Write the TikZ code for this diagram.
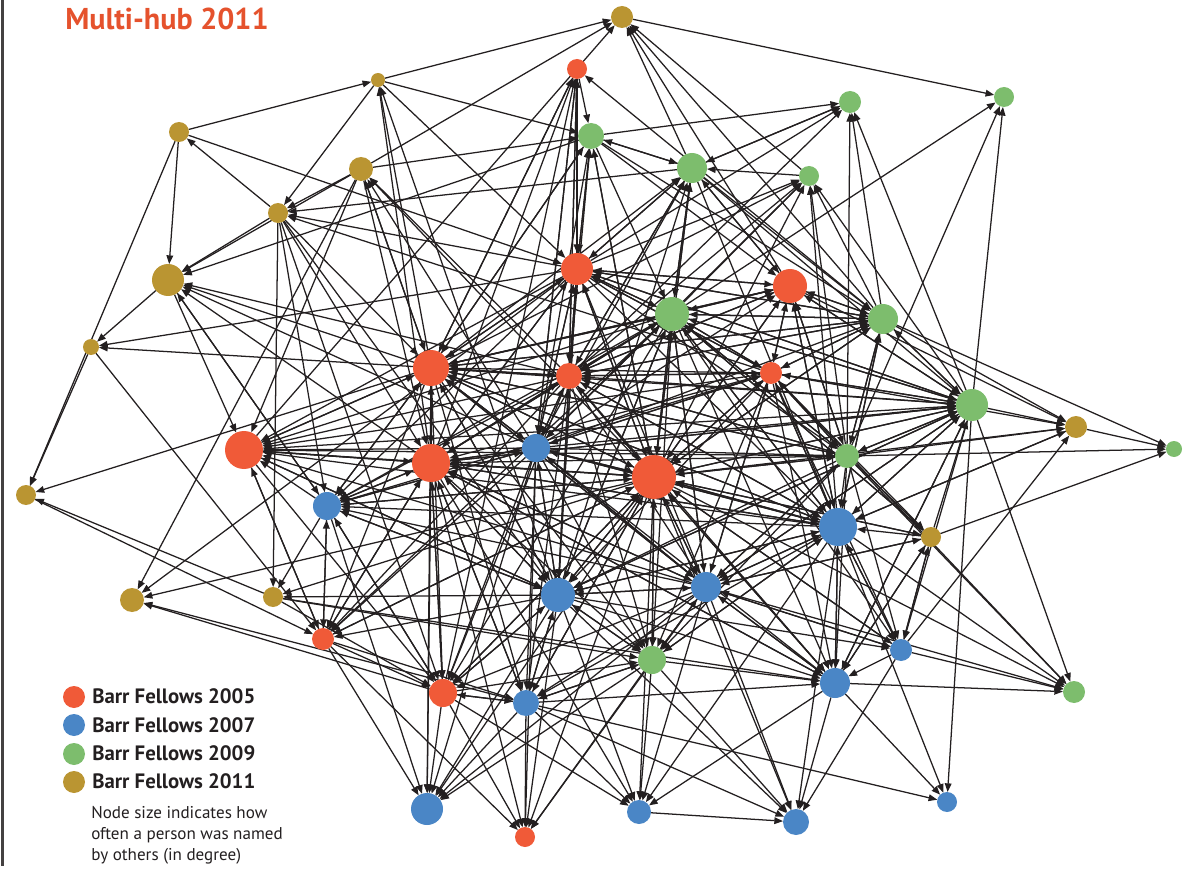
\documentclass[tikz,border=0pt]{standalone}
\usepackage{fontspec}
\newfontfamily\ptsans{PT Sans}
\usetikzlibrary{arrows.meta}
\pgfdeclarelayer{background}
\pgfsetlayers{background,main}
\definecolor{c05}{HTML}{F05A38}
\definecolor{c07}{HTML}{4A86C6}
\definecolor{c09}{HTML}{7DBD6D}
\definecolor{c11}{HTML}{BA9532}
\definecolor{ink}{HTML}{231F20}
\definecolor{titlec}{HTML}{E5522D}
\tikzset{
  nd/.style={circle,inner sep=0pt,outer sep=0pt,draw=none,minimum size=#1*1.5pt},
  lnk/.style={draw=ink,line width=0.95pt,-{Triangle[length=6.5pt,width=5pt]}},
  legtxt/.style={anchor=base west,inner sep=0pt,text=ink,font=\ptsans\bfseries\fontsize{15.6}{18}\selectfont},
  notetxt/.style={anchor=north west,inner sep=0pt,text=ink,align=left,font=\ptsans\fontsize{12.8}{15.8}\selectfont}
}
\begin{document}
\begin{tikzpicture}[x=0.75pt,y=-0.75pt]
\useasboundingbox (0,0) rectangle (1190,870);
\draw[line width=1.5pt,color=ink!85] (2.5,0) -- (2.5,866);
\node[anchor=base west,inner sep=0pt,text=titlec,font=\ptsans\bfseries\fontsize{22.6}{26}\selectfont] (title) at (65,30) {Multi-hub 2011};
% gold 2011
\node[nd=11,fill=c11] (g1) at (622,17) {};
\node[nd=7,fill=c11] (g2) at (378,80) {};
\node[nd=10,fill=c11] (g3) at (179,132) {};
\node[nd=12,fill=c11] (g4) at (361,169) {};
\node[nd=10,fill=c11] (g5) at (278,213) {};
\node[nd=16,fill=c11] (g6) at (168,280) {};
\node[nd=8,fill=c11] (g7) at (91,347) {};
\node[nd=10,fill=c11] (g8) at (26,495) {};
\node[nd=12,fill=c11] (g9) at (132,600) {};
\node[nd=10,fill=c11] (g10) at (273,597) {};
\node[nd=11,fill=c11] (g11) at (1076,427) {};
\node[nd=10,fill=c11] (g12) at (931,537) {};
% red 2005
\node[nd=10,fill=c05] (r1) at (577,69) {};
\node[nd=16,fill=c05] (r2) at (577,269) {};
\node[nd=17,fill=c05] (r3) at (790,286) {};
\node[nd=18,fill=c05] (r4) at (431,368) {};
\node[nd=13,fill=c05] (r5) at (569,376) {};
\node[nd=11,fill=c05] (r6) at (771,373) {};
\node[nd=19,fill=c05] (r7) at (244,450) {};
\node[nd=19,fill=c05] (r8) at (431,463) {};
\node[nd=22,fill=c05] (r9) at (654,477) {};
\node[nd=11,fill=c05] (r10) at (323,639) {};
\node[nd=14,fill=c05] (r11) at (443,693) {};
\node[nd=10,fill=c05] (r12) at (525,837) {};
% blue 2007
\node[nd=14,fill=c07] (b1) at (536,448) {};
\node[nd=14,fill=c07] (b2) at (327,506) {};
\node[nd=19,fill=c07] (b3) at (838,527) {};
\node[nd=17,fill=c07] (b4) at (558,595) {};
\node[nd=15,fill=c07] (b5) at (706,587) {};
\node[nd=11,fill=c07] (b6) at (901,650) {};
\node[nd=15,fill=c07] (b7) at (835,683) {};
\node[nd=13,fill=c07] (b8) at (526,703) {};
\node[nd=16,fill=c07] (b9) at (427,809) {};
\node[nd=12,fill=c07] (b10) at (639,812) {};
\node[nd=13,fill=c07] (b11) at (796,822) {};
\node[nd=10,fill=c07] (b12) at (947,802) {};
% green 2009
\node[nd=13,fill=c09] (n1) at (591,136) {};
\node[nd=11,fill=c09] (n2) at (850,102) {};
\node[nd=10,fill=c09] (n3) at (1004,97) {};
\node[nd=15,fill=c09] (n4) at (692,168) {};
\node[nd=10,fill=c09] (n5) at (809,176) {};
\node[nd=17,fill=c09] (n6) at (672,314) {};
\node[nd=15,fill=c09] (n7) at (883,319) {};
\node[nd=16,fill=c09] (n8) at (972,405) {};
\node[nd=12,fill=c09] (n9) at (847,456) {};
\node[nd=8,fill=c09] (n10) at (1174,449) {};
\node[nd=14,fill=c09] (n11) at (652,660) {};
\node[nd=11,fill=c09] (n12) at (1074,692) {};
\begin{pgfonlayer}{background}
\foreach \t/\ss in {
 g1/{g2,g4,r7,n4,r3,n5,n7},
 g2/{g3,r4,r8,b4},
 g3/{g5},
 g4/{r4,b1,r5,r9},
 g5/{g2,g4,n4,r6,r2},
 g6/{g3,g4,g5,n1,r4,b1,r8,r5,b2},
 g7/{g6,r2,r5},
 g8/{g3,g7,r4,g10},
 g9/{g4,r2,r9,b8,r11},
 g10/{g5,b2,b4,r9},
 g11/{n8,n7,b6,r6,b3,r9,r3,n9},
 g12/{r9,n9,r6,b6,b7,n6,b5},
 r1/{r2,r8,r11,n7,b1,r5,r4},
 r2/{r4,r5,n6,r1,n1,n4,r3,r6,r9,b1,r8,g3,g2,n7,n8,b4,b5},
 r3/{n6,r6,n7,r9,n8,r2,n4,n1,r5,b3,n9,b1,r4},
 r4/{r5,r2,r8,b1,r9,g5,g4,b2,r7,r6,n6,r3,n7,b4,b5,r1,n1,b3,n9},
 r5/{r4,r8,b1,r2,r9,n6,r6,b4,r3,b3,n9,n7,n4,r1},
 r6/{r9,n6,r3,n7,n8,b3,n9,r5,r2,b5,b1},
 r7/{r4,r8,b1,r5,r9,r2,g6,r10,b2,n6,b4,r6,b5,n9,b3,n8,g4},
 r8/{r4,r5,r2,b1,r9,n6,r6,b2,b4,b5,b3,n9,r7,r10,r11,b8,g5,g4,n8,b7},
 r9/{r4,r5,r2,r8,b1,n6,r6,r3,n7,n8,b3,n9,g12,b5,b4,b7,b6,n11,b8,r11,b2,r10,n4,n1},
 r10/{r8,r4,b1,r5,g8,b4,r9,b2,r7,n6,g7},
 r11/{r8,b4,r10,r4,b1,b2,r9,b5,n6,r5,b8,r7,g5,g10},
 r12/{r10,b8,b4,b5,r11,r9,b1,n11,r8},
 b1/{r4,r5,r8,r2,r9,b4,n6,r6,b2,r1,b5,b3},
 b2/{r4,r8,b1,r5,r9,g5,g6,r2,r6,b4,r11,r10,n6,b3,b5},
 b3/{r9,n9,r6,g12,b5,n8,n7,r3,b6,b7,b4,r5,r2,n6,r4,b1,r8,n4,n11,g11},
 b4/{r9,b1,r8,r5,r4,b5,n6,r6,b3,n9,r2,b8,r11,n11,r7,b2,n8,g5},
 b5/{r9,b3,r6,b4,n9,r5,b1,n6,n11,g12,r8,b6,n8,r4,b7},
 b6/{b3,r9,b5,n9,n8,g12,r6,n6,b4},
 b7/{b3,r9,b5,n9,b4,g12,n8,b6,r6,r5,n11,b1,r8,n6,b8,g10},
 b8/{r11,b4,r8,r10,b5,r9,n11,b1,r4,r5,b3},
 b9/{r11,r8,b4,b5,b8,r4,r9,b1,b2,n11,r10},
 b10/{b5,b4,r9,b8,n11,b3,r8,b7,r11},
 b11/{b7,b3,b10,b5,r9,b4,n11,b8,b6},
 b12/{n8,b7,b8,b3},
 n1/{g2,g4,r2,r5,r4,n4,b1,r9,r1},
 n2/{n1,r2,n4,r5,n9,n7,n8},
 n3/{g1,n6,n9,n8},
 n4/{n1,n6,b4,r2,r5,r4,b1,r9,n5,r3,n2},
 n5/{n9,b3,n7,n8,r4,r5,r2,b1,n6,r9},
 n6/{r5,r2,r4,r9,r6,r3,b1,n7,n8,b3,b4,n9,b5,r8,g12,n4,n1},
 n7/{n4,n1,r3,n8,r6,r9,b3,n9,r5,r2,n6,b1,r4},
 n8/{n7,r3,r6,b3,r9,n6,b5,n9,r5,b4,r2,r4,b1,b7,g12,n4,r8},
 n9/{r6,r9,r3,n6,n7,n8,b1,r5,r4,b5,r2},
 n10/{g11,n9,g12,n7},
 n11/{b4,r9,b5,b3,r5,b1,r8,r4,n9,r6,b8,r11,n6,g10},
 n12/{n8,b3,r9,b7,b6,b5,r6,n9}}
 {\foreach \s in \ss {\draw[lnk] (\s) -- (\t);}}
\end{pgfonlayer}
% legend
\node[nd=11,fill=c05] (lg1) at (74,697) {};
\node[nd=11,fill=c07] (lg2) at (74,725) {};
\node[nd=11,fill=c09] (lg3) at (74,754) {};
\node[nd=11,fill=c11] (lg4) at (74,782) {};
\node[legtxt] (lt1) at (92,703) {Barr Fellows 2005};
\node[legtxt] (lt2) at (92,732) {Barr Fellows 2007};
\node[legtxt] (lt3) at (92,760) {Barr Fellows 2009};
\node[legtxt] (lt4) at (92,788) {Barr Fellows 2011};
\node[notetxt] (note) at (91,806) {Node size indicates how\\often a person was named\\by others (in degree)};
\end{tikzpicture}
\end{document}
